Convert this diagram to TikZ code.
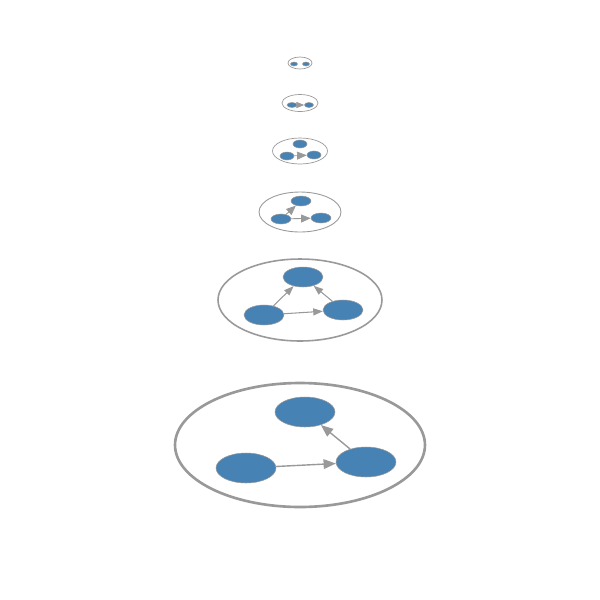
\documentclass[tikz,border=0pt]{standalone}
\usepackage{tikz}
\usetikzlibrary{shapes.geometric, arrows.meta}
\definecolor{steel}{HTML}{4682B4}
\definecolor{rim}{HTML}{999999}
\tikzset{
  vtx/.style={ellipse, fill=steel, draw=rim, inner sep=0pt, line width=0.3pt},
  hull/.style={ellipse, draw=rim, inner sep=0pt},
  lnk/.style={draw=rim, shorten >=0pt}
}

\begin{document}
\begin{tikzpicture}[x=0.02cm, y=-0.02cm]
					\useasboundingbox (0,0) rectangle (600,600);
					% stage 1
					\node[hull, minimum width=0.48cm, minimum height=0.24cm, line width=0.4pt] (h1) at (300,63) {};
					\node[vtx, minimum width=0.14cm, minimum height=0.08cm] (a1) at (294,64) {};
					\node[vtx, minimum width=0.14cm, minimum height=0.08cm] (b1) at (306,64) {};
					% stage 2
					\node[hull, minimum width=0.72cm, minimum height=0.34cm, line width=0.4pt] (h2) at (300,103) {};
					\node[vtx, minimum width=0.2cm, minimum height=0.1cm] (a2) at (292,105) {};
					\node[vtx, minimum width=0.18cm, minimum height=0.1cm] (b2) at (309,105) {};
					\draw[lnk, line width=0.4pt, -{Triangle[length=4.5pt, width=3.5pt]}] (a2) -- (b2);
					% stage 3
					\node[hull, minimum width=1.1cm, minimum height=0.52cm, line width=0.4pt] (h3) at (300,151) {};
					\node[vtx, minimum width=0.28cm, minimum height=0.16cm] (c3) at (300,144) {};
					\node[vtx, minimum width=0.28cm, minimum height=0.16cm] (a3) at (287,156) {};
					\node[vtx, minimum width=0.28cm, minimum height=0.16cm] (b3) at (314,155) {};
					\draw[lnk, line width=0.4pt, -{Triangle[length=5.5pt, width=4.5pt]}] (a3) -- (b3);
					% stage 4
					\node[hull, minimum width=1.64cm, minimum height=0.8cm, line width=0.5pt] (h4) at (300,212) {};
					\node[vtx, minimum width=0.4cm, minimum height=0.2cm] (c4) at (301,201) {};
					\node[vtx, minimum width=0.4cm, minimum height=0.2cm] (a4) at (281,219) {};
					\node[vtx, minimum width=0.4cm, minimum height=0.2cm] (b4) at (321,218) {};
					\draw[lnk, line width=0.5pt, -{Triangle[length=5.5pt, width=4.5pt]}] (a4) -- (c4);
					\draw[lnk, line width=0.5pt, -{Triangle[length=5.5pt, width=4.5pt]}] (a4) -- (b4);
					% stage 5
					\node[hull, minimum width=3.28cm, minimum height=1.64cm, line width=0.9pt] (h5) at (300,300) {};
					\node[vtx, minimum width=0.8cm, minimum height=0.4cm] (c5) at (303,277) {};
					\node[vtx, minimum width=0.8cm, minimum height=0.4cm] (a5) at (264,315) {};
					\node[vtx, minimum width=0.8cm, minimum height=0.4cm] (b5) at (343,310) {};
					\draw[lnk, line width=0.6pt, -{Triangle[length=5.5pt, width=4pt]}] (a5) -- (c5);
					\draw[lnk, line width=0.6pt, -{Triangle[length=5.5pt, width=4pt]}] (b5) -- (c5);
					\draw[lnk, line width=0.6pt, -{Triangle[length=5.5pt, width=4pt]}] (a5) -- (b5);
					% stage 6
					\node[hull, minimum width=5cm, minimum height=2.48cm, line width=1.5pt] (h6) at (300,445) {};
					\node[vtx, minimum width=1.2cm, minimum height=0.6cm] (c6) at (305,412) {};
					\node[vtx, minimum width=1.2cm, minimum height=0.6cm] (a6) at (246,468) {};
					\node[vtx, minimum width=1.2cm, minimum height=0.6cm] (b6) at (366,462) {};
					\draw[lnk, line width=0.8pt, -{Triangle[length=7pt, width=5.5pt]}] (a6) -- (b6);
					\draw[lnk, line width=0.8pt, -{Triangle[length=7pt, width=5.5pt]}] (b6) -- (c6);
				\end{tikzpicture}
\end{document}
